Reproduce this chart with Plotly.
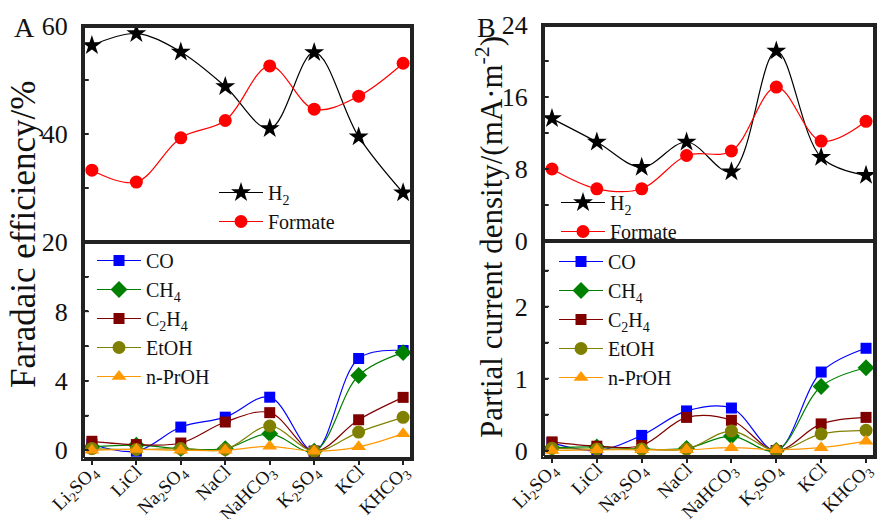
import plotly.graph_objects as go

W, H = 878, 519

categories = ["Li2SO4", "LiCl", "Na2SO4", "NaCl", "NaHCO3", "K2SO4", "KCl", "KHCO3"]
tick_labels = ["Li<sub>2</sub>SO<sub>4</sub>", "LiCl", "Na<sub>2</sub>SO<sub>4</sub>", "NaCl",
               "NaHCO<sub>3</sub>", "K<sub>2</sub>SO<sub>4</sub>", "KCl", "KHCO<sub>3</sub>"]

# Panel A: Faradaic efficiency (%)
fe_h2 = [56.4, 58.6, 55.2, 48.8, 41.0, 55.1, 39.5, 29.1]
fe_formate = [33.3, 31.1, 39.3, 42.5, 52.6, 44.6, 47.0, 53.1]
fe_co = [0.35, -0.05, 1.34, 1.91, 3.06, -0.05, 5.29, 5.75]
fe_ch4 = [0.2, 0.3, 0.1, 0.1, 0.96, -0.05, 4.31, 5.63]
fe_c2h4 = [0.52, 0.33, 0.42, 1.63, 2.17, -0.05, 1.76, 3.05]
fe_etoh = [0.1, 0.05, 0.1, 0.05, 1.40, -0.05, 1.05, 1.9]
fe_proh = [0.0, 0.05, 0.0, 0.0, 0.23, -0.05, 0.2, 0.96]

# Panel B: partial current density
j_h2 = [13.6, 11.0, 8.2, 11.0, 7.7, 21.1, 9.3, 7.3]
j_formate = [8.0, 5.8, 5.8, 9.5, 10.0, 17.1, 11.1, 13.3]
j_co = [0.11, 0.0, 0.21, 0.55, 0.59, 0.0, 1.09, 1.42]
j_ch4 = [0.04, 0.05, 0.02, 0.03, 0.20, 0.0, 0.89, 1.15]
j_c2h4 = [0.12, 0.06, 0.07, 0.46, 0.42, 0.0, 0.37, 0.46]
j_etoh = [0.03, 0.02, 0.02, 0.02, 0.27, 0.0, 0.23, 0.28]
j_proh = [0.0, 0.01, 0.01, 0.01, 0.04, 0.01, 0.04, 0.13]

# y tick positions (labels on major ticks only)
ticksA_top = [20, 30, 40, 50, 60]
labelsA_top = ["20", "", "40", "", "60"]
ticksA_bot = [0, 2, 4, 6, 8, 10]
labelsA_bot = ["0", "", "4", "", "8", ""]
ticksB_top = [0, 4, 8, 12, 16, 20, 24]
labelsB_top = ["0", "", "8", "", "16", "", "24"]
ticksB_bot = [0, 0.5, 1, 1.5, 2, 2.5]
labelsB_bot = ["0", "", "1", "", "2", ""]

XR = [-0.2, 7.2]
RA_TOP = [20, 60]
RA_BOT = [-0.5, 12]
RB_TOP = [0, 24]
RB_BOT = [-0.09, 2.91]

FONT = "Liberation Serif"
AX_COLOR = "#222222"
LW = 2
x = list(range(len(categories)))

def px_x(p):
    return p / W

def px_y(p):
    return 1 - p / H

domA = [px_x(83), px_x(412)]
domB = [px_x(543), px_x(875)]
topA = [px_y(242), px_y(26)]
botA = [px_y(459), px_y(242)]
topB = [px_y(241), px_y(25)]
botB = [px_y(457), px_y(241)]

fig = go.Figure()

def add(yvals, name, color, symbol, size, xa, ya, leg):
    fig.add_trace(go.Scatter(
        x=x, y=yvals, name=name, mode="lines+markers",
        line=dict(color=color, width=1.2, shape="spline", smoothing=1.0),
        marker=dict(color=color, symbol=symbol, size=size, line=dict(width=0)),
        xaxis=xa, yaxis=ya, legend=leg))

# Panel A
add(fe_h2, "H<sub>2</sub>", "#000000", "star", 15, "x", "y", "legend")
add(fe_formate, "Formate", "#ff0000", "circle", 13, "x", "y", "legend")
add(fe_co, "CO", "#0000ff", "square", 11, "x2", "y2", "legend2")
add(fe_ch4, "CH<sub>4</sub>", "#008000", "diamond", 13, "x2", "y2", "legend2")
add(fe_c2h4, "C<sub>2</sub>H<sub>4</sub>", "#800000", "square", 11, "x2", "y2", "legend2")
add(fe_etoh, "EtOH", "#808000", "circle", 13, "x2", "y2", "legend2")
add(fe_proh, "n-PrOH", "#ff9900", "triangle-up", 13, "x2", "y2", "legend2")

# Panel B
add(j_h2, "H<sub>2</sub>", "#000000", "star", 15, "x3", "y3", "legend3")
add(j_formate, "Formate", "#ff0000", "circle", 13, "x3", "y3", "legend3")
add(j_co, "CO", "#0000ff", "square", 11, "x4", "y4", "legend4")
add(j_ch4, "CH<sub>4</sub>", "#008000", "diamond", 13, "x4", "y4", "legend4")
add(j_c2h4, "C<sub>2</sub>H<sub>4</sub>", "#800000", "square", 11, "x4", "y4", "legend4")
add(j_etoh, "EtOH", "#808000", "circle", 13, "x4", "y4", "legend4")
add(j_proh, "n-PrOH", "#ff9900", "triangle-up", 13, "x4", "y4", "legend4")

# frame boxes (inset by 1 px so the clip path keeps them) and inside y tick marks
def frame(xa, ya, yr, xdom, ydom):
    ex = 1.0 * (XR[1] - XR[0]) / ((xdom[1] - xdom[0]) * W)
    ey = 1.0 * (yr[1] - yr[0]) / ((ydom[1] - ydom[0]) * H)
    x0, x1 = XR[0] + ex, XR[1] - ex
    y0, y1 = yr[0] + ey, yr[1] - ey
    fig.add_trace(go.Scatter(
        x=[x0, x1, x1, x0, x0], y=[y0, y0, y1, y1, y0],
        mode="lines", line=dict(color=AX_COLOR, width=LW), xaxis=xa, yaxis=ya,
        showlegend=False, hoverinfo="skip"))

def yticks(xa, ya, vals, dom):
    dx = 6 * (XR[1] - XR[0]) / ((dom[1] - dom[0]) * W)
    xs, ys = [], []
    for v in vals:
        xs += [XR[0], XR[0] + dx, None]
        ys += [v, v, None]
    fig.add_trace(go.Scatter(x=xs, y=ys, mode="lines", line=dict(color=AX_COLOR, width=1.5),
                             xaxis=xa, yaxis=ya, showlegend=False, hoverinfo="skip"))

frame("x", "y", RA_TOP, domA, topA)
frame("x2", "y2", RA_BOT, domA, botA)
frame("x3", "y3", RB_TOP, domB, topB)
frame("x4", "y4", RB_BOT, domB, botB)
yticks("x", "y", ticksA_top, domA)
yticks("x2", "y2", ticksA_bot, domA)
yticks("x3", "y3", ticksB_top, domB)
yticks("x4", "y4", ticksB_bot, domB)

tickfont = dict(family=FONT, size=26, color="#111111")

def xaxis_top(dom, anchor):
    return dict(domain=dom, anchor=anchor, range=XR, showline=True, mirror=True,
                linecolor=AX_COLOR, linewidth=LW, showgrid=False, zeroline=False,
                showticklabels=False, ticks="", layer="above traces")

def xaxis_bot(dom, anchor):
    return dict(domain=dom, anchor=anchor, range=XR, showline=True, mirror=True,
                linecolor=AX_COLOR, linewidth=LW, showgrid=False, zeroline=False,
                tickmode="array", tickvals=x, ticktext=tick_labels, tickangle=-45,
                ticks="outside", ticklen=4, tickwidth=1.5, tickcolor=AX_COLOR,
                ticklabelstandoff=-12, layer="above traces",
                tickfont=dict(family=FONT, size=19, color="#111111"))

def yaxis(dom, anchor, rng, vals, labels):
    return dict(domain=dom, anchor=anchor, range=rng, showline=True, mirror=True,
                linecolor=AX_COLOR, linewidth=LW, showgrid=False, zeroline=False,
                tickmode="array", tickvals=vals, ticktext=labels,
                ticks="inside", ticklen=5, tickwidth=1.5, tickcolor=AX_COLOR,
                ticklabelstandoff=8, layer="above traces", tickfont=tickfont)

legfont = dict(family=FONT, size=20, color="#111111")

def leg(xp, yp):
    return dict(x=px_x(xp), y=px_y(yp), xanchor="left", yanchor="top",
                bgcolor="rgba(0,0,0,0)", borderwidth=0, font=legfont,
                tracegroupgap=0, itemwidth=44)

fig.update_layout(
    template="none",
    width=W, height=H, margin=dict(l=0, r=0, t=0, b=0, autoexpand=False),
    paper_bgcolor="white", plot_bgcolor="rgba(0,0,0,0)",
    font=dict(family=FONT, color="#111111"),
    xaxis=xaxis_top(domA, "y"),
    xaxis2=xaxis_bot(domA, "y2"),
    yaxis=yaxis(topA, "x", RA_TOP, ticksA_top, labelsA_top),
    yaxis2=yaxis(botA, "x2", RA_BOT, ticksA_bot, labelsA_bot),
    xaxis3=xaxis_top(domB, "y3"),
    xaxis4=xaxis_bot(domB, "y4"),
    yaxis3=yaxis(topB, "x3", RB_TOP, ticksB_top, labelsB_top),
    yaxis4=yaxis(botB, "x4", RB_BOT, ticksB_bot, labelsB_bot),
    legend=leg(214, 173),
    legend2=leg(92, 241),
    legend3=leg(556, 183),
    legend4=leg(554, 242),
    showlegend=True,
)

def ann(text, xp, yp, size, angle=0):
    fig.add_annotation(text=text, x=px_x(xp), y=px_y(yp), xref="paper", yref="paper",
                       xanchor="center", yanchor="middle", showarrow=False,
                       textangle=angle, font=dict(family=FONT, size=size, color="#111111"))

ann("A", 24, 27, 28)
ann("B", 486, 27, 28)
ann("Faradaic efficiency/%", 23, 235, 35, -90)
ann("Partial current density/(mA·m<sup>-2</sup>)", 490, 237, 31, -90)

fig.write_html("out.html")
